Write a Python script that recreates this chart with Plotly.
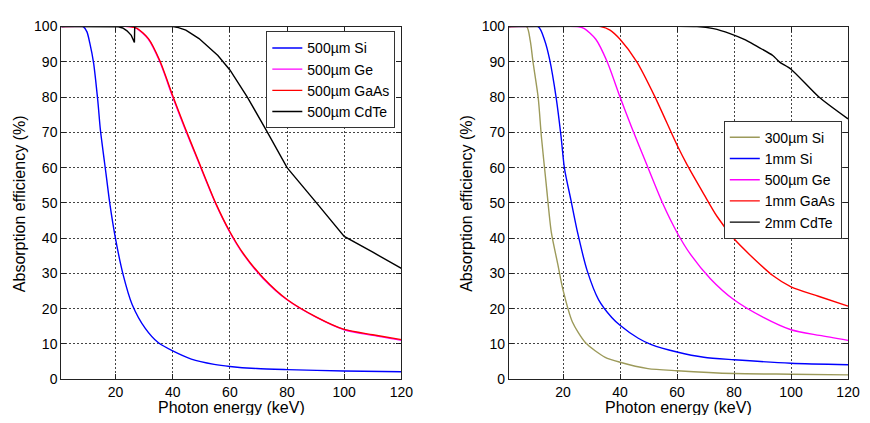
import plotly.graph_objects as go

# ---------------- data ----------------
# Left panel: 500 um detectors
si500_x = [1, 8.7, 10, 11, 12.3, 13.8, 14.7, 16.7, 18, 20, 22.6, 25.8, 30.4, 35, 40, 46.5, 54.5, 60, 69.4, 80, 100, 120]
si500_y = [100, 100, 98.5, 95.3, 89.8, 78.9, 70.7, 58, 49.8, 39.8, 29.8, 21.2, 14.4, 10.3, 8, 5.7, 4.2, 3.6, 3.0, 2.7, 2.3, 2.1]

ge500_x = [1, 25, 27.5, 31.5, 35.5, 40, 44.1, 48.8, 55, 60, 64.8, 71.7, 80, 90.3, 100, 110, 120]
ge500_y = [100, 100, 99.4, 96.4, 90, 80, 71.4, 62.0, 49.8, 41.6, 35.3, 28.5, 22.5, 17.5, 14.0, 12.4, 11.0]

gaas500_x = [1, 24.5, 27.5, 31.5, 35.5, 40, 44.1, 48.8, 55, 60, 64.8, 71.7, 80, 90.3, 100, 110, 120]
gaas500_y = [100, 100, 99.5, 96.6, 90.3, 80.4, 71.7, 62.3, 50, 41.8, 35.5, 28.7, 22.6, 17.6, 14.1, 12.6, 11.2]

cdte500_x = [1, 20, 21, 22.5, 24, 25.5, 26.6, 26.7, 40, 42, 44.6, 49.2, 53.7, 55.8, 60, 66.1, 73, 80, 90.3, 100, 110, 120]
cdte500_y = [100, 100, 99.9, 99.6, 98.8, 97.5, 95.5, 100, 100, 99.7, 99, 96.6, 93.5, 91.8, 87.7, 80, 70.2, 60, 50, 40.5, 36, 31.4]

# Right panel
si300_x = [1, 7.2, 8.5, 9.5, 11.3, 12.4, 14.1, 15.9, 18.2, 20, 23.3, 27.9, 34.8, 40, 49.8, 60, 80, 100, 120]
si300_y = [100, 100, 96, 89.8, 79.8, 68.9, 55.3, 41.6, 32.5, 25.3, 16.2, 10.3, 6.2, 4.8, 3.0, 2.4, 1.6, 1.4, 1.2]

si1mm_x = [1, 11.3, 13.6, 15.3, 17.6, 19.3, 20.5, 22.8, 25.1, 28.5, 32.5, 37.1, 40, 46.4, 51, 60, 69.4, 80, 100, 120]
si1mm_y = [100, 100, 96, 90.7, 79.8, 68.9, 59.8, 50.7, 41.6, 30.7, 22.5, 17.5, 15.3, 11.6, 9.8, 7.7, 6.2, 5.5, 4.5, 4.1]

gaas1mm_x = [1, 33.2, 36.5, 40, 45.9, 52.3, 60, 63.6, 69.4, 74, 80, 85.5, 93.6, 100, 109.6, 120]
gaas1mm_y = [100, 100, 99.0, 96.4, 90, 80, 66.4, 60.7, 52.5, 46.2, 39.8, 35.3, 29.4, 26.2, 23.5, 20.7]

cdte2mm_x = [1, 67, 72.8, 78.6, 84, 87.8, 93.6, 95.9, 100, 109.8, 120]
cdte2mm_y = [100, 100, 99.4, 98, 96.2, 94.5, 91.8, 90, 87.9, 80, 73.8]

x_ticks = [20, 40, 60, 80, 100, 120]
y_ticks = [0, 10, 20, 30, 40, 50, 60, 70, 80, 90, 100]

BLUE, MAG, RED, BLK, OLIVE = "#0000ff", "#ff00ff", "#ff0000", "#000000", "#9c9a5a"
FONT = "Arial, Liberation Sans, sans-serif"

# page has an 8px body margin on every side; figure fills the rest of the 870x423 window
OFF = 8
W, H = 870 - 2 * OFF, 423 - 2 * OFF


def px(xr):
    return (xr - OFF) / W


def py(yr):
    return 1 - (yr - OFF) / H


fig = go.Figure()


def add(x, y, name, color, xa, ya, leg, shape="spline"):
    fig.add_trace(go.Scatter(x=x, y=y, name=name, mode="lines",
                             line=dict(color=color, width=1.4, shape=shape, smoothing=0.7),
                             xaxis=xa, yaxis=ya, legend=leg))


add(si500_x, si500_y, "500\u00b5m Si", BLUE, "x", "y", "legend")
add(ge500_x, ge500_y, "500\u00b5m Ge", MAG, "x", "y", "legend")
add(gaas500_x, gaas500_y, "500\u00b5m GaAs", RED, "x", "y", "legend")
add(cdte500_x, cdte500_y, "500\u00b5m CdTe", BLK, "x", "y", "legend", shape="linear")

add(si300_x, si300_y, "300\u00b5m Si", OLIVE, "x2", "y2", "legend2")
add(si1mm_x, si1mm_y, "1mm Si", BLUE, "x2", "y2", "legend2")
add(ge500_x, ge500_y, "500\u00b5m Ge", MAG, "x2", "y2", "legend2")
add(gaas1mm_x, gaas1mm_y, "1mm GaAs", RED, "x2", "y2", "legend2")
add(cdte2mm_x, cdte2mm_y, "2mm CdTe", BLK, "x2", "y2", "legend2")

yd = [py(386), py(19)]
xd1 = [px(62), px(407)]
xd2 = [px(516), px(860)]

axcommon = dict(showline=True, linecolor="#222", linewidth=1, mirror="ticks",
                ticks="inside", ticklen=5, tickcolor="#222",
                showgrid=True, gridcolor="#444", griddash="2px,2px", gridwidth=1,
                zeroline=False, tickfont=dict(family=FONT, size=14, color="#000"))

fig.update_layout(
    width=W, height=H,
    margin=dict(l=0, r=0, t=0, b=0),
    paper_bgcolor="white", plot_bgcolor="white",
    font=dict(family=FONT, size=14, color="#000"),
    xaxis=dict(domain=xd1, range=[1, 120], tickvals=x_ticks, anchor="y", **axcommon),
    yaxis=dict(domain=yd, range=[0, 100], tickvals=y_ticks, anchor="x", **axcommon),
    xaxis2=dict(domain=xd2, range=[1, 120], tickvals=x_ticks, anchor="y2", **axcommon),
    yaxis2=dict(domain=yd, range=[0, 100], tickvals=y_ticks, anchor="x2", **axcommon),
    legend=dict(x=px(270), y=py(24), xanchor="left", yanchor="top",
                bgcolor="white", bordercolor="#333", borderwidth=1,
                font=dict(family=FONT, size=14), tracegroupgap=0, itemwidth=30),
    legend2=dict(x=px(734), y=py(117), xanchor="left", yanchor="top",
                 bgcolor="white", bordercolor="#333", borderwidth=1,
                 font=dict(family=FONT, size=14), tracegroupgap=0, itemwidth=30),
    showlegend=True,
)

for cx in [(62 + 407) / 2, (516 + 860) / 2]:
    fig.add_annotation(text="Photon energy (keV)", x=px(cx), y=py(415), xref="paper", yref="paper",
                       showarrow=False, xanchor="center", yanchor="middle",
                       font=dict(family=FONT, size=16))
for cx in [19, 473]:
    fig.add_annotation(text="Absorption efficiency (%)", x=px(cx), y=py(203), xref="paper", yref="paper",
                       showarrow=False, xanchor="center", yanchor="middle", textangle=-90,
                       font=dict(family=FONT, size=16))

fig.write_html("out.html")
